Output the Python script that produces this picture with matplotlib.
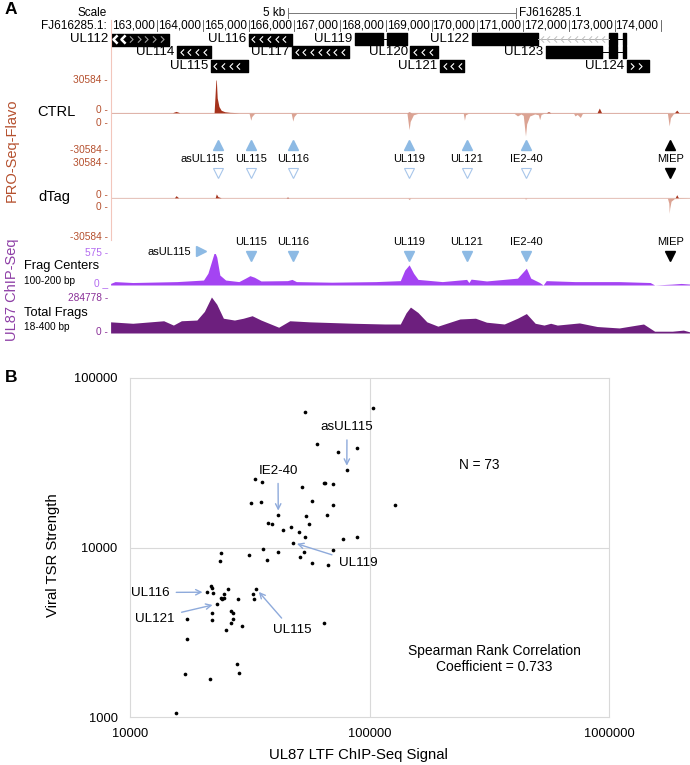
import numpy as np
import matplotlib
matplotlib.use("Agg")
import matplotlib.pyplot as plt
from matplotlib.path import Path

plt.rcParams['font.family'] = ['Liberation Sans', 'DejaVu Sans']
NARROW = ['Liberation Sans Narrow', 'Liberation Sans', 'DejaVu Sans']

# ---------------- panel A data (genome window on FJ616285.1) ----------------
G0, G1 = 161985, 174643
ruler_ticks = list(range(163000, 175000, 1000))
scale_bar = (165850, 170850)

gene_names = ["UL112", "UL116", "UL119", "UL122", "UL114", "UL117", "UL120", "UL123",
              "UL115", "UL121", "UL124"]
gene_rows = [0, 0, 0, 0, 1, 1, 1, 1, 2, 2, 2]
gene_exons = [
    [(161985, 163261)],
    [(165000, 165947)],
    [(167329, 167937), (168034, 168469)],
    [(169870, 171319), (172884, 173058), (173174, 173251)],
    [(163435, 164188)],
    [(165947, 167203)],
    [(168536, 169135)],
    [(171493, 172710), (172884, 173058), (173174, 173251)],
    [(164169, 164990)],
    [(169184, 169715)],
    [(173271, 173744)],
]
gene_strand = ["+", "-", None, None, "-", "-", "-", None, "-", "-", "+"]

# PRO-Seq (reads), plus and minus strand
ctrl_plus_pos = [161985, 163338, 163415, 163493, 164246, 164285, 164295, 164314, 164353,
                 164401, 164478, 164594, 164787, 168459, 168507, 168556, 171503, 171551,
                 171600, 172613, 172662, 172710, 174305, 174353, 174401, 174643]
ctrl_plus_val = [300, 300, 1500, 300, 300, 30584, 30584, 14000, 6000,
                 2500, 1200, 600, 300, 300, 900, 300, 300, 1200,
                 300, 300, 4600, 300, 300, 2700, 300, 300]
ctrl_minus_pos = [161985, 165010, 165048, 165068, 165125, 165150, 165930, 165966, 165990,
                  166050, 168460, 168490, 168507, 168530, 168600, 168700, 169690, 169715,
                  169740, 169800, 170800, 170874, 170950, 171000, 171049, 171075, 171140,
                  171250, 171330, 171358, 171390, 171450, 172100, 172130, 172180, 172247,
                  172290, 172350, 174150, 174189, 174215, 174280, 174350, 174643]
ctrl_minus_val = [-250, -250, -6000, -3000, -500, -250, -250, -6700, -3000,
                  -300, -300, -9000, -13800, -7000, -1500, -300, -300, -6000,
                  -1500, -300, -300, -2400, -800, -2000, -19000, -9000, -2500,
                  -800, -1500, -5500, -1200, -300, -300, -2400, -1200, -3700,
                  -500, -300, -300, -10700, -4000, -600, -300, -250]
dtag_plus_pos = [161985, 163380, 163415, 163470, 164270, 164295, 164330, 164400, 165820,
                 165850, 165880, 174320, 174353, 174390, 174643]
dtag_plus_val = [200, 200, 2100, 200, 200, 3700, 1200, 200, 200,
                 900, 200, 200, 3000, 200, 200]
dtag_minus_pos = [161985, 168480, 168507, 168540, 171030, 171049, 171080, 174150, 174180,
                  174189, 174200, 174230, 174300, 174643]
dtag_minus_val = [-200, -200, -1200, -200, -200, -900, -200, -200, -4000,
                  -12000, -8000, -2500, -500, -200]

# UL87 ChIP-Seq
fc_pos = [161985, 162082, 162469, 163435, 164015, 164111, 164188, 164256, 164304, 164372,
          164498, 164787, 164932, 165029, 165126, 165271, 165850, 165947, 166044, 166816,
          167783, 168314, 168411, 168507, 168604, 168701, 169232, 169763, 169812, 169860,
          170198, 170874, 171068, 171164, 171358, 171435, 171503, 172130, 173097, 173773,
          173870, 174256, 174449, 174643]
fc_val = [29, 63, 46, 63, 92, 218, 431, 620, 518, 184,
          92, 63, 127, 173, 144, 75, 81, 104, 63, 52,
          63, 81, 276, 374, 218, 104, 63, 104, 46, 109,
          75, 127, 311, 127, 46, 0, 81, 63, 63, 46,
          0, 17, 29, 17]
tf_pos = [161985, 162469, 163145, 163357, 163531, 163870, 164034, 164188, 164304, 164449,
          164691, 164884, 165077, 165271, 165657, 165899, 166333, 167300, 167976, 168314,
          168440, 168536, 168700, 168894, 169135, 169328, 169618, 169957, 170198, 170585,
          170874, 171068, 171261, 171454, 171599, 171744, 172227, 172614, 173097, 173483,
          173628, 173870, 174256, 174498, 174643]
tf_val = [88300, 76900, 96800, 62700, 96800, 102500, 170900, 284778, 227800, 116800,
          102500, 116800, 136700, 102500, 45600, 96800, 88300, 76900, 71200, 71200,
          159500, 205000, 162300, 88300, 54100, 76900, 111100, 116800, 85400, 71200,
          116800, 153800, 76900, 62700, 76900, 62700, 79700, 51300, 39900, 62700,
          71200, 14200, 14200, 22800, 8500]

tsr_names = ["asUL115", "UL115", "UL116", "UL119", "UL121", "IE2-40", "MIEP"]
tsr_pos = [164324, 165048, 165966, 168507, 169763, 171068, 174208]

# ---------------- panel B data ----------------
ltf_signal = [53700, 103300, 60300, 74000, 88300, 80400, 33300, 35600, 52500, 64400,
              65500, 70200, 32000, 35200, 57300, 127700, 70300, 41600, 54200, 66500,
              37800, 39100, 55800, 43500, 47000, 50700, 53600, 77600, 88900, 47900,
              24000, 31300, 35800, 41300, 53200, 70300, 23800, 37400, 51500, 57800,
              66800, 21800, 22100, 20900, 22300, 24800, 25700, 23900, 24300, 24700,
              23000, 28300, 32500, 33600, 32800, 22100, 26500, 26800, 17300, 22100,
              27000, 26300, 29300, 25200, 64400, 17300, 28100, 28400, 16900, 21600,
              15600]
tsr_strength = [62900, 66700, 40800, 36800, 38900, 28700, 25200, 24500, 22600, 23900,
                24000, 23600, 18300, 18500, 18900, 17900, 17700, 15600, 15400, 15600,
                13900, 13800, 13700, 12700, 13200, 12400, 11600, 11300, 11600, 10700,
                9340, 9090, 9860, 9380, 9420, 9730, 8300, 8490, 8770, 8150,
                7930, 5960, 5800, 5450, 5370, 5350, 5690, 5010, 4970, 5010,
                4640, 4940, 5300, 5710, 4940, 4100, 4220, 4120, 3790, 3730,
                3770, 3600, 3450, 3240, 3600, 2870, 2050, 1830, 1790, 1680,
                1060]
label_names = ["asUL115", "IE2-40", "UL119", "UL116", "UL121", "UL115"]
label_x = [80400, 41600, 47900, 20900, 23000, 33600]
label_y = [28700, 15600, 10700, 5450, 4640, 5710]
x_ticks = [1e4, 1e5, 1e6]
x_tick_labels = ["10000", "100000", "1000000"]
y_ticks = [1e3, 1e4, 1e5]
y_tick_labels = ["1000", "10000", "100000"]

# ---------------- colours ----------------
PRO_DARK = '#a5321c'
PRO_LIGHT = '#dba393'
PRO_TXT = '#b5502e'
FC_COL = '#a444f2'
TF_COL = '#6d1f7e'
BLUE = '#8dbae4'
ARROW = '#8eaadb'

W, H = 690, 765
fig = plt.figure(figsize=(6.9, 7.65), dpi=100)


def box(x0, y0, x1, y1):
    return fig.add_axes([x0 / W, 1 - y1 / H, (x1 - x0) / W, (y1 - y0) / H])


def ftext(x, y, s, **kw):
    return fig.text(x / W, 1 - y / H, s, **kw)


X0, X1 = 110.6, 690


def track(y0, y1, lo, hi):
    ax = box(X0, y0, X1, y1)
    ax.set_xlim(G0, G1)
    ax.set_ylim(lo, hi)
    ax.axis('off')
    return ax


# signal tracks
ax = track(80, 113, 0, 30584)
ax.fill_between(ctrl_plus_pos, 0, ctrl_plus_val, color=PRO_DARK, lw=0)
ax.axhline(0, color='#c47d6b', lw=0.8)
ax = track(113, 150, -30584, 0)
ax.fill_between(ctrl_minus_pos, 0, ctrl_minus_val, color=PRO_LIGHT, lw=0)
ax = track(164, 198, 0, 30584)
ax.fill_between(dtag_plus_pos, 0, dtag_plus_val, color=PRO_DARK, lw=0)
ax.axhline(0, color='#c47d6b', lw=0.8)
ax = track(198, 237, -30584, 0)
ax.fill_between(dtag_minus_pos, 0, dtag_minus_val, color=PRO_LIGHT, lw=0)
ax = track(254, 285, 0, 575)
ax.fill_between(fc_pos, 0, fc_val, color=FC_COL, lw=0)
ax = track(297, 333, 0, 284778)
ax.fill_between(tf_pos, 0, tf_val, color=TF_COL, lw=0)

# overlay for genes, ruler and TSR markers (y in pixel rows)
ov = box(X0, 0, X1, 345)
ov.set_xlim(G0, G1)
ov.set_ylim(345, 0)
ov.axis('off')
ov.set_facecolor('none')

# scale + ruler
ov.plot(scale_bar, [13, 13], color='#777777', lw=0.7)
for s in scale_bar:
    ov.plot([s, s], [8, 18], color='#777777', lw=0.7)
ov.text(scale_bar[0] - 40, 13, "5 kb", ha='right', va='center', fontsize=8.5, family=NARROW)
ov.text(scale_bar[1] + 60, 13, "FJ616285.1", ha='left', va='center', fontsize=8.5, family=NARROW)
ftext(107, 13, "Scale", ha='right', va='center', fontsize=8.5, family=NARROW)
ftext(107, 26, "FJ616285.1:", ha='right', va='center', fontsize=8.5, family=NARROW)
for t in ruler_ticks:
    ov.plot([t, t], [20, 31], color='#555555', lw=0.6)
    ov.text(t - 45, 26, f"{t:,}", ha='right', va='center', fontsize=8.5, family=NARROW)
ov.plot([G0, G0], [20, 240], color='#f2c6bc', lw=0.8, clip_on=False)

# genes
chev_l = Path([(0.5, 1), (-0.5, 0), (0.5, -1)], [Path.MOVETO, Path.LINETO, Path.LINETO])
chev_r = Path([(-0.5, 1), (0.5, 0), (-0.5, -1)], [Path.MOVETO, Path.LINETO, Path.LINETO])
row_top = [33.5, 46.3, 60]
row_h = 12
for name, row, exons, strand in zip(gene_names, gene_rows, gene_exons, gene_strand):
    y0 = row_top[row]
    yc = y0 + row_h / 2
    ov.broken_barh([(s, e - s) for s, e in exons], (y0, row_h), color='black')
    for (s0, e0), (s1, e1) in zip(exons[:-1], exons[1:]):
        long_intron = s1 - e0 > 1000
        ov.plot([e0, s1], [yc, yc], color='#b0b0b0' if long_intron else 'black', lw=0.7)
        if long_intron:
            xs = np.arange(e0 + 80, s1 - 40, 150)
            ov.plot(xs, [yc] * len(xs), ls='none', marker=chev_l, ms=4.5,
                    mfc='none', mec='#c0c0c0', mew=0.7)
    ov.text(exons[0][0] - 60, yc, name, ha='right', va='center', fontsize=9.5, family=NARROW)
    if strand is None:
        continue
    s, e = exons[0]
    xs = np.arange(s + 100, e - 50, 170)
    if name == "UL112":
        ov.plot(xs[:2], [yc] * 2, ls='none', marker=chev_l, ms=6, mfc='none', mec='white', mew=1.8)
        ov.plot(xs[2:], [yc] * len(xs[2:]), ls='none', marker=chev_r, ms=4.5,
                mfc='none', mec='#9a9a9a', mew=0.8)
    else:
        ov.plot(xs, [yc] * len(xs), ls='none', marker=chev_l if strand == '-' else chev_r,
                ms=4.5, mfc='none', mec='white', mew=0.8)

# TSR markers between PRO-Seq tracks
for name, p in zip(tsr_names, tsr_pos):
    miep = name == "MIEP"
    ov.plot(p, 145, marker='^', ms=6.5, color='black' if miep else BLUE, ls='none')
    if miep:
        ov.plot(p, 173, marker='v', ms=6.5, color='black', ls='none')
    else:
        ov.plot(p, 173, marker='v', ms=6.5, mfc='white', mec='#a8c6ea', mew=0.8, ls='none')
    lx = p - 330 if name == "asUL115" else p
    ov.text(lx, 159.5, name, ha='center', va='center', fontsize=8, family=NARROW)

# TSR markers over ChIP-Seq tracks
for name, p in zip(tsr_names, tsr_pos):
    if name == "asUL115":
        ov.plot(163966, 251, marker='>', ms=6.5, color=BLUE, ls='none')
        ov.text(163744, 252, name, ha='right', va='center', fontsize=8, family=NARROW)
        continue
    miep = name == "MIEP"
    ov.plot(p, 256, marker='v', ms=6.5, color='black' if miep else BLUE, ls='none')
    ov.text(p, 242, name, ha='center', va='center', fontsize=8, family=NARROW)

# left labels
tick_labels = [("30584 -", 80, PRO_TXT), ("0 -", 110, PRO_TXT), ("0 -", 122.5, PRO_TXT),
               ("-30584 -", 150, PRO_TXT), ("30584 -", 163.5, PRO_TXT), ("0 -", 195.5, PRO_TXT),
               ("0 -", 207.5, PRO_TXT), ("-30584 -", 236.5, PRO_TXT),
               ("575 -", 253.5, '#b36af0'), ("0 _", 283, '#b36af0'), ("284778 -", 298.5, '#8a3098'),
               ("0 -", 332, '#8a3098')]
for s, y, c in tick_labels:
    ftext(108, y, s, ha='right', va='center', fontsize=7.3, color=c, family=NARROW)

ftext(37, 112, "CTRL", ha='left', va='center', fontsize=10.5)
ftext(38, 197, "dTag", ha='left', va='center', fontsize=10.5)
ftext(24, 266.5, "Frag Centers", ha='left', va='center', fontsize=9.3)
ftext(24, 281, "100-200 bp", ha='left', va='center', fontsize=7.3)
ftext(24, 313, "Total Frags", ha='left', va='center', fontsize=9.3)
ftext(24, 327, "18-400 bp", ha='left', va='center', fontsize=7.3)
ftext(12, 150, "PRO-Seq-Flavo", rotation=90, ha='center', va='center', fontsize=10.5, color=PRO_TXT)
ftext(12, 290, "UL87 ChIP-Seq", rotation=90, ha='center', va='center', fontsize=10.5, color='#8e3fa6')

ftext(5, 10, "A", ha='left', va='center', fontsize=12.5, fontweight='bold')
ftext(5, 377, "B", ha='left', va='center', fontsize=12.5, fontweight='bold')

# ---------------- panel B ----------------
sc = box(130, 378, 609, 717)
sc.set_xscale('log')
sc.set_yscale('log')
sc.set_xlim(1e4, 1e6)
sc.set_ylim(1e3, 1e5)
sc.set_xticks(x_ticks, x_tick_labels)
sc.set_yticks(y_ticks, y_tick_labels)
sc.minorticks_off()
sc.tick_params(axis='both', length=0, labelsize=9.3)
sc.tick_params(axis='x', pad=8)
sc.tick_params(axis='y', pad=9)
for sp in sc.spines.values():
    sp.set_color('#d9d9d9')
    sp.set_linewidth(0.8)
sc.axvline(1e5, color='#d9d9d9', lw=0.8, zorder=1)
sc.axhline(1e4, color='#d9d9d9', lw=0.8, zorder=1)
sc.scatter(ltf_signal, tsr_strength, s=7, color='black', lw=0, zorder=3)

text_px = [(347, 427), (278, 470.5), (358, 563), (150, 592.5), (155, 618.5), (292, 630)]
for name, x, y, (tx, ty) in zip(label_names, label_x, label_y, text_px):
    sc.annotate(name, xy=(x, y), xytext=(tx / W, 1 - ty / H), textcoords='figure fraction',
                ha='center', va='center', fontsize=9.6,
                arrowprops=dict(arrowstyle='->', color=ARROW, lw=1, shrinkA=3, shrinkB=3))

ftext(479, 465, "N = 73", ha='center', va='center', fontsize=9.8)
ftext(494, 659, "Spearman Rank Correlation\nCoefficient = 0.733", ha='center', va='center',
      fontsize=10, multialignment='center', linespacing=1.25)
ftext(358, 755, "UL87 LTF ChIP-Seq Signal", ha='center', va='center', fontsize=10.7)
ftext(53, 555, "Viral TSR Strength", rotation=90, ha='center', va='center', fontsize=10.7)

fig.savefig("out.png", dpi=100)
